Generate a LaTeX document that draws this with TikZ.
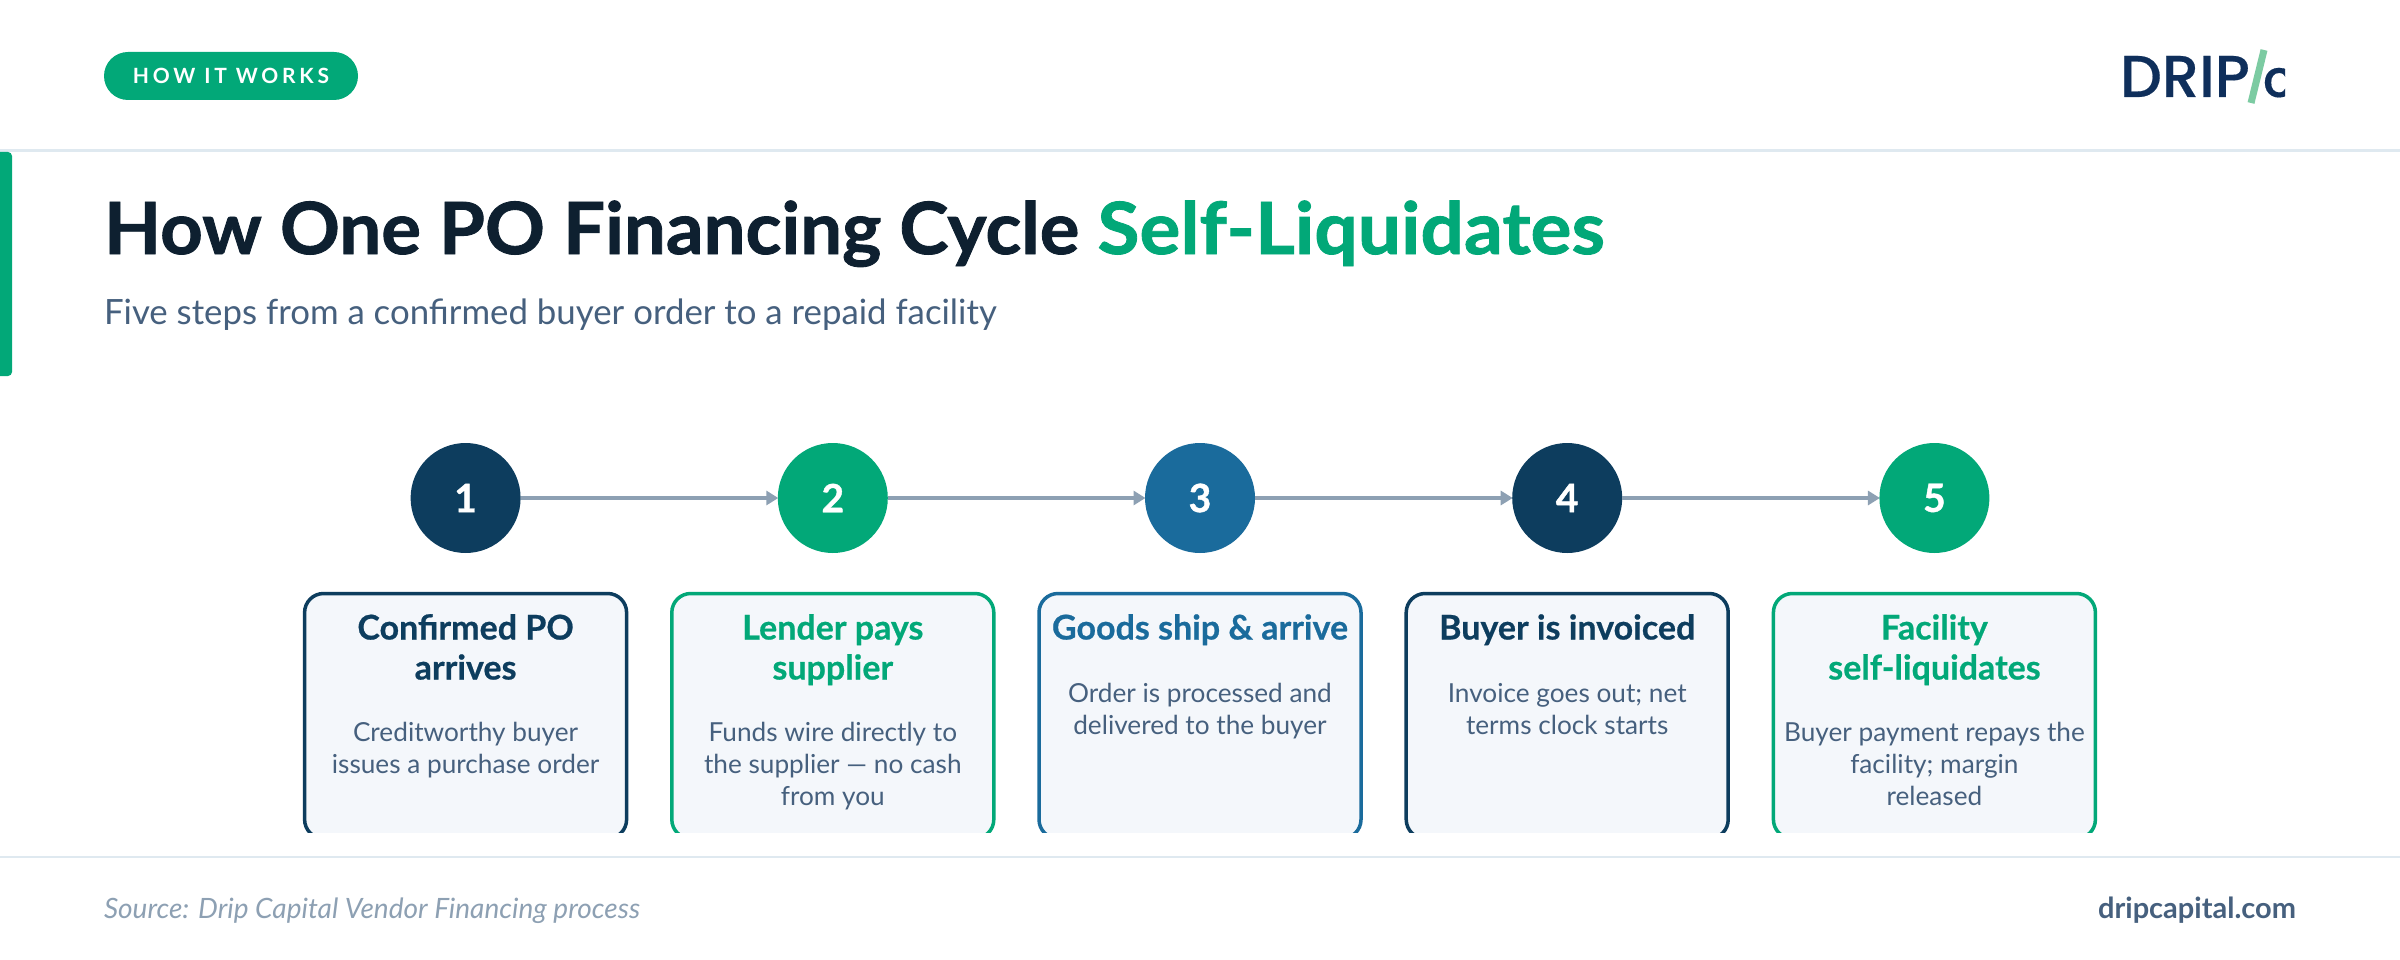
\documentclass[tikz,border=0pt]{standalone}
\usepackage{fontspec}
\setmainfont{Lato}
\newfontfamily\logofont{Poppins}[UprightFont=* Medium]
\usetikzlibrary{arrows.meta}
\definecolor{navy}{HTML}{0D3D5E}
\definecolor{green}{HTML}{02A878}
\definecolor{blue}{HTML}{1A6B9C}
\definecolor{ink}{HTML}{0E2030}
\definecolor{slate}{HTML}{46607E}
\definecolor{mist}{HTML}{8DA0B3}
\definecolor{rule}{HTML}{DFE9F0}
\definecolor{panel}{HTML}{F4F7FB}
\definecolor{logonavy}{HTML}{0F2F5B}
\definecolor{logogreen}{HTML}{7CCBA2}
\newcommand\fsz[2]{\fontsize{#1}{#2}\selectfont}
\newcommand\firstT{\rule{0pt}{30pt}}
\newcommand\firstB{\rule{0pt}{24pt}}
\tikzset{
  every node/.style={inner sep=0pt,outer sep=0pt},
  stepnum/.style={circle,minimum size=110pt,text=white,font=\bfseries\fsz{39}{44}\addfontfeature{FakeBold=1}},
  card/.style={draw=#1,fill=panel,line width=3.5pt,rounded corners=19pt,minimum width=322pt,minimum height=245pt,anchor=north},
  cardtitle/.style={text=#1,font=\bfseries\fsz{34}{40}\addfontfeature{FakeBold=0.6},align=center,anchor=north},
  cardbody/.style={text=slate,font=\fsz{26.2}{32},align=center,anchor=north},
  link/.style={draw=mist,line width=4pt,-{Triangle[length=12pt,width=14pt]},shorten >=-0.5pt},
  hair/.style={draw=rule,line width=2.5pt}
}
\begin{document}
\begin{tikzpicture}[x=1pt,y=-1pt]
\useasboundingbox[fill=white] (0,0) rectangle (2400,960);
% header
\node[fill=green,rounded corners=24pt,minimum width=254pt,minimum height=48pt] (pill) at (231,76) {};
\node[text=white,font=\bfseries\fsz{21}{24}\addfontfeature{LetterSpace=18}] (pilltext) at (pill) {HOW IT WORKS};
\coordinate (hl) at (0,150.5); \coordinate (hr) at (2400,150.5);
\draw[hair] (hl) -- (hr);
\fill[green,rounded corners=4pt] (-8,152) rectangle (12,376);
\node[anchor=base west,text=ink,font=\bfseries\fsz{72}{80}\addfontfeature{FakeBold=1.2,FakeStretch=1.032}] (title) at (104,254) {How One PO Financing Cycle};
\node[anchor=base west,text=green,font=\bfseries\fsz{72}{80}\addfontfeature{FakeBold=1.2,FakeStretch=1.064}] (titleb) at (1097.5,254) {Self-Liquidates};
\node[anchor=base west,text=slate,font=\fsz{34.8}{40}] (subtitle) at (104,324) {Five steps from a confirmed buyer order to a repaid facility};
% logo
\node[anchor=base west,text=logonavy,font=\logofont\fsz{59}{60}\addfontfeature{FakeBold=0.3}] (logo) at (2120,97) {DRIP};
\draw[logogreen,line width=7pt] (2264,50) -- (2251,103);
\begin{scope}
\clip (2260,60) rectangle (2285,105);
\node[anchor=base west,text=logonavy,font=\logofont\fsz{52}{60}\addfontfeature{FakeBold=0.3}] (logoc) at (2263,97) {c};
\end{scope}
% circles
\node[stepnum,fill=navy]  (c1) at (465.6,498) {1};
\node[stepnum,fill=green] (c2) at (832.8,498) {2};
\node[stepnum,fill=blue]  (c3) at (1200,498) {3};
\node[stepnum,fill=navy]  (c4) at (1567.2,498) {4};
\node[stepnum,fill=green] (c5) at (1934.4,498) {5};
\draw[link] (c1) -- (c2);
\draw[link] (c2) -- (c3);
\draw[link] (c3) -- (c4);
\draw[link] (c4) -- (c5);
% cards, cut off at their foot
\begin{scope}
\clip (0,0) rectangle (2400,832);
\node[card=navy]  (b1) at (465.6,593.5) {};
\node[card=green] (b2) at (832.8,593.5) {};
\node[card=blue]  (b3) at (1200,593.5) {};
\node[card=navy]  (b4) at (1567.2,593.5) {};
\node[card=green] (b5) at (1934.4,593.5) {};
\end{scope}
\node[cardtitle=navy]  (t1) at (465.6,609.5)  {\firstT Confirmed PO\\arrives};
\node[cardtitle=green] (t2) at (832.8,609.5)  {\firstT Lender pays\\supplier};
\node[cardtitle=blue]  (t3) at (1200,609.5)   {\firstT Goods ship \& arrive};
\node[cardtitle=navy]  (t4) at (1567.2,609.5) {\firstT Buyer is invoiced};
\node[cardtitle=green] (t5) at (1934.4,609.5) {\firstT Facility\\self-liquidates};
\node[cardbody] (d1) at (465.6,717)  {\firstB Creditworthy buyer\\issues a purchase order};
\node[cardbody] (d2) at (832.8,717)  {\firstB Funds wire directly to\\the supplier — no cash\\from you};
\node[cardbody] (d3) at (1200,678)   {\firstB Order is processed and\\delivered to the buyer};
\node[cardbody] (d4) at (1567.2,678) {\firstB Invoice goes out; net\\terms clock starts};
\node[cardbody] (d5) at (1934.4,717) {\firstB Buyer payment repays the\\facility; margin\\released};
% footer
\coordinate (fl) at (0,857); \coordinate (fr) at (2400,857);
\draw[hair] (fl) -- (fr);
\node[anchor=base west,text=mist,font=\itshape\fsz{28}{30}] (source) at (104,918) {Source: Drip Capital Vendor Financing process};
\node[anchor=base east,text=slate,font=\bfseries\fsz{29}{30}] (site) at (2296,918) {dripcapital.com};
\end{tikzpicture}
\end{document}
